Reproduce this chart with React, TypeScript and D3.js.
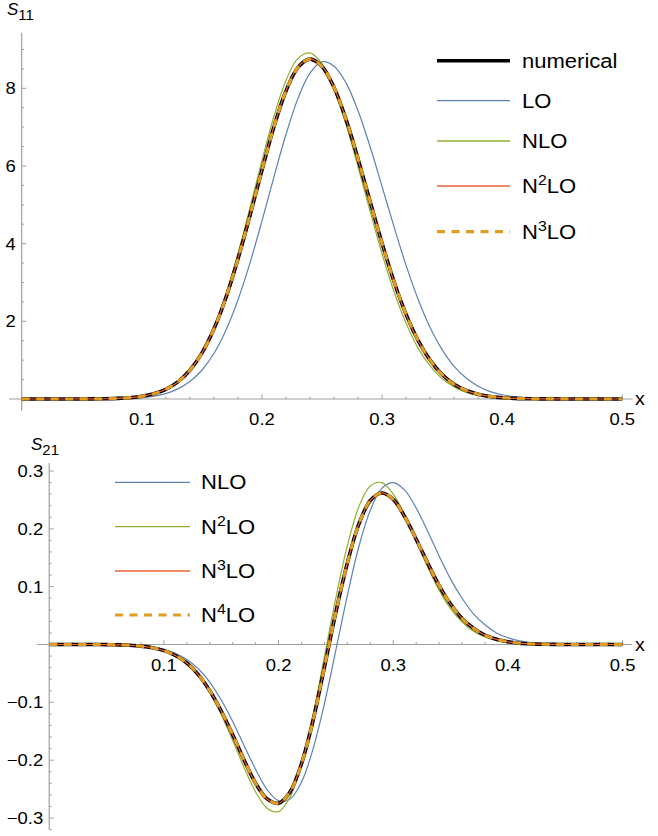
import React from 'react';
import * as d3 from 'd3';

const xGrid = [
  0, 0.01, 0.02, 0.03, 0.04, 0.05, 0.06, 0.07, 0.08, 0.09,
  0.1, 0.11, 0.12, 0.13, 0.14, 0.15, 0.16, 0.17, 0.18, 0.19,
  0.2, 0.21, 0.22, 0.23, 0.24, 0.25, 0.26, 0.27, 0.28, 0.29,
  0.3, 0.31, 0.32, 0.33, 0.34, 0.35, 0.36, 0.37, 0.38, 0.39,
  0.4, 0.41, 0.42, 0.43, 0.44, 0.45, 0.46, 0.47, 0.48, 0.49, 0.5,
];

// S11 panel
const s11Numerical = [
  0, 0, 0, 0, 0, 0.001, 0.003, 0.007, 0.016, 0.034,
  0.069, 0.135, 0.25, 0.44, 0.74, 1.18, 1.8, 2.61, 3.6, 4.72,
  5.89, 7.01, 7.93, 8.54, 8.75, 8.56, 8.02, 7.2, 6.18, 5.09,
  4.01, 3.02, 2.18, 1.51, 1.0, 0.63, 0.38, 0.22, 0.124, 0.066,
  0.034, 0.017, 0.008, 0.004, 0.002, 0.001, 0, 0, 0, 0, 0,
];
const s11LO = [
  0, 0, 0, 0, 0, 0.001, 0.002, 0.004, 0.008, 0.018,
  0.037, 0.074, 0.14, 0.26, 0.45, 0.74, 1.17, 1.77, 2.55, 3.5,
  4.58, 5.72, 6.81, 7.74, 8.39, 8.68, 8.57, 8.14, 7.42, 6.5,
  5.47, 4.43, 3.44, 2.57, 1.84, 1.27, 0.84, 0.54, 0.33, 0.19,
  0.109, 0.059, 0.031, 0.015, 0.007, 0.003, 0.001, 0, 0, 0, 0,
];
const s11NLO = [
  0, 0, 0, 0, 0, 0.001, 0.002, 0.006, 0.014, 0.031,
  0.065, 0.13, 0.24, 0.44, 0.75, 1.21, 1.85, 2.7, 3.74, 4.92,
  6.14, 7.28, 8.2, 8.77, 8.91, 8.63, 7.99, 7.07, 5.98, 4.84,
  3.74, 2.76, 1.95, 1.31, 0.85, 0.52, 0.31, 0.17, 0.093, 0.048,
  0.024, 0.011, 0.005, 0.002, 0.001, 0, 0, 0, 0, 0, 0,
];
const s11N2LO = [
  0, 0, 0, 0, 0, 0.001, 0.003, 0.007, 0.016, 0.034,
  0.068, 0.134, 0.25, 0.44, 0.74, 1.18, 1.81, 2.62, 3.61, 4.73,
  5.9, 7.02, 7.94, 8.55, 8.76, 8.57, 8.02, 7.2, 6.17, 5.08,
  4.0, 3.01, 2.17, 1.5, 1.0, 0.63, 0.38, 0.22, 0.124, 0.066,
  0.034, 0.017, 0.008, 0.004, 0.002, 0.001, 0, 0, 0, 0, 0,
];
const s11N3LO = [
  0, 0, 0, 0, 0, 0.001, 0.003, 0.007, 0.016, 0.034,
  0.069, 0.135, 0.25, 0.44, 0.74, 1.18, 1.8, 2.61, 3.6, 4.72,
  5.89, 7.01, 7.93, 8.54, 8.75, 8.56, 8.02, 7.2, 6.18, 5.09,
  4.01, 3.02, 2.18, 1.51, 1.0, 0.63, 0.38, 0.22, 0.124, 0.066,
  0.034, 0.017, 0.008, 0.004, 0.002, 0.001, 0, 0, 0, 0, 0,
];

// S21 panel
const s21Numerical = [
  0, 0, 0, 0, 0, -0.0002, -0.0006, -0.0013, -0.0028, -0.0056,
  -0.0106, -0.019, -0.032, -0.052, -0.08, -0.115, -0.156, -0.2, -0.24, -0.267,
  -0.2745, -0.255, -0.206, -0.132, -0.039, 0.056, 0.141, 0.208, 0.249, 0.262,
  0.251, 0.221, 0.182, 0.141, 0.102, 0.07, 0.045, 0.028, 0.016, 0.0089,
  0.0047, 0.0023, 0.0011, 0.0005, 0.0002, 0, 0, 0, 0, 0, 0,
];
const s21NLO = [
  0, 0, 0, 0, 0, -0.0002, -0.0004, -0.001, -0.0021, -0.0043,
  -0.0083, -0.015, -0.026, -0.042, -0.065, -0.096, -0.133, -0.175, -0.216, -0.251,
  -0.27, -0.267, -0.238, -0.181, -0.102, -0.0095, 0.085, 0.169, 0.232, 0.27,
  0.28, 0.267, 0.236, 0.196, 0.153, 0.113, 0.08, 0.053, 0.034, 0.02,
  0.0116, 0.0063, 0.0033, 0.0016, 0.0008, 0.0003, 0, 0, 0, 0, 0,
];
const s21N2LO = [
  0, 0, 0, 0, 0, -0.0002, -0.0005, -0.0011, -0.0025, -0.0053,
  -0.0104, -0.019, -0.033, -0.054, -0.083, -0.121, -0.166, -0.213, -0.255, -0.283,
  -0.289, -0.264, -0.207, -0.123, -0.021, 0.081, 0.171, 0.238, 0.274, 0.28,
  0.26, 0.224, 0.179, 0.134, 0.094, 0.062, 0.039, 0.023, 0.013, 0.0068,
  0.0034, 0.0016, 0.0007, 0.0003, 0.0001, 0, 0, 0, 0, 0, 0,
];
const s21N3LO = [
  0, 0, 0, 0, 0, -0.0002, -0.0006, -0.0013, -0.0028, -0.0056,
  -0.0106, -0.019, -0.032, -0.052, -0.08, -0.115, -0.156, -0.2, -0.24, -0.267,
  -0.2745, -0.255, -0.206, -0.132, -0.039, 0.056, 0.141, 0.208, 0.249, 0.262,
  0.251, 0.221, 0.182, 0.141, 0.102, 0.07, 0.045, 0.028, 0.016, 0.0089,
  0.0047, 0.0023, 0.0011, 0.0005, 0.0002, 0, 0, 0, 0, 0, 0,
];
const s21N4LO = [
  0, 0, 0, 0, 0, -0.0002, -0.0006, -0.0013, -0.0028, -0.0056,
  -0.0106, -0.019, -0.032, -0.052, -0.08, -0.115, -0.156, -0.2, -0.24, -0.267,
  -0.2745, -0.255, -0.206, -0.132, -0.039, 0.056, 0.141, 0.208, 0.249, 0.262,
  0.251, 0.221, 0.182, 0.141, 0.102, 0.07, 0.045, 0.028, 0.016, 0.0089,
  0.0047, 0.0023, 0.0011, 0.0005, 0.0002, 0, 0, 0, 0, 0, 0,
];

const xTickLabels = ['0.1', '0.2', '0.3', '0.4', '0.5'];
const xTickValues = [0.1, 0.2, 0.3, 0.4, 0.5];
const s11TickValues = [2, 4, 6, 8];
const s11TickLabels = ['2', '4', '6', '8'];
const s21TickValues = [-0.3, -0.2, -0.1, 0.1, 0.2, 0.3];
const s21TickLabels = ['\u22120.3', '\u22120.2', '\u22120.1', '0.1', '0.2', '0.3'];

const BLUE = '#5e81b5';
const GREEN = '#8fb032';
const RED = '#eb6235';
const ORANGE = '#e19c24';
const AXIS = '#a0a0a0';
const FONT = '"Liberation Sans", Arial, Helvetica, sans-serif';

type TxtProps = { x: number; y: number; size: number; anchor?: string; sx?: number; italic?: boolean; children: React.ReactNode };
function Txt({ x, y, size, anchor = 'start', sx = 1.15, italic = false, children }: TxtProps) {
  return (
    <text
      transform={`translate(${x},${y}) scale(${sx},1)`}
      textAnchor={anchor as any}
      fontSize={size}
      fontFamily={FONT}
      fontStyle={italic ? 'italic' : 'normal'}
      fill="#000"
    >
      {children}
    </text>
  );
}

function Sup({ base, sup, rest, size }: { base: string; sup: string; rest: string; size: number }) {
  return (
    <>
      <tspan>{base}</tspan>
      <tspan dy={-8} fontSize={size * 0.72}>{sup}</tspan>
      <tspan dy={8}>{rest}</tspan>
    </>
  );
}

type Series = { values: number[]; color: string; width: number; dash?: string };

function Panel({
  x, y, xAxisRange, yAxisRange, yMajor, yMajorLabels, yMinorStep, yMinorRange, series, tickFont,
}: {
  x: d3.ScaleLinear<number, number>;
  y: d3.ScaleLinear<number, number>;
  xAxisRange: [number, number];
  yAxisRange: [number, number];
  yMajor: number[];
  yMajorLabels: string[];
  yMinorStep: number;
  yMinorRange: [number, number];
  series: Series[];
  tickFont: number;
}) {
  const line = d3
    .line<number>()
    .x((_, i) => x(xGrid[i]))
    .y((d) => y(d))
    .curve(d3.curveCatmullRom.alpha(0.5));
  const x0 = x(0);
  const y0 = y(0);
  const xMinor = d3.range(0.02, 0.5001, 0.02).filter((v) => Math.abs(v * 10 - Math.round(v * 10)) > 1e-6);
  const yMinor = d3
    .range(yMinorRange[0], yMinorRange[1] + 1e-9, yMinorStep)
    .filter((v) => !yMajor.some((m) => Math.abs(m - v) < 1e-9) && Math.abs(v) > 1e-9);
  return (
    <g>
      <line x1={x(xAxisRange[0])} x2={x(xAxisRange[1])} y1={y0} y2={y0} stroke={AXIS} strokeWidth={1.2} />
      <line x1={x0} x2={x0} y1={y(yAxisRange[0])} y2={y(yAxisRange[1])} stroke={AXIS} strokeWidth={1.2} />
      {xTickValues.map((v) => (
        <line key={'xm' + v} x1={x(v)} x2={x(v)} y1={y0} y2={y0 - 4.5} stroke={AXIS} strokeWidth={1} />
      ))}
      {xMinor.map((v) => (
        <line key={'xn' + v} x1={x(v)} x2={x(v)} y1={y0} y2={y0 - 2.5} stroke={AXIS} strokeWidth={1} />
      ))}
      {yMajor.map((v) => (
        <line key={'ym' + v} x1={x0} x2={x0 + 4.5} y1={y(v)} y2={y(v)} stroke={AXIS} strokeWidth={1} />
      ))}
      {yMinor.map((v) => (
        <line key={'yn' + v} x1={x0} x2={x0 + 2.5} y1={y(v)} y2={y(v)} stroke={AXIS} strokeWidth={1} />
      ))}
      {xTickValues.map((v, i) => (
        <Txt key={'xl' + v} x={x(v)} y={y0 + 26} size={tickFont} anchor="middle" sx={1.12}>
          {xTickLabels[i]}
        </Txt>
      ))}
      {yMajor.map((v, i) => (
        <Txt key={'yl' + v} x={x0 - 6} y={y(v) + 6} size={tickFont} anchor="end" sx={1.12}>
          {yMajorLabels[i]}
        </Txt>
      ))}
      <Txt x={635} y={y0 + 6} size={tickFont + 1} sx={1.12}>x</Txt>
      {series.map((s, i) => (
        <path
          key={i}
          d={line(s.values) || ''}
          fill="none"
          stroke={s.color}
          strokeWidth={s.width}
          strokeDasharray={s.dash}
          strokeLinejoin="round"
        />
      ))}
    </g>
  );
}

function LegendRow({ x1, x2, tx, y, color, width, dash, children }: { x1: number; x2: number; tx: number; y: number; color: string; width: number; dash?: string; children: React.ReactNode }) {
  return (
    <g>
      <line x1={x1} x2={x2} y1={y} y2={y} stroke={color} strokeWidth={width} strokeDasharray={dash} />
      <Txt x={tx} y={y + 7} size={19.5} sx={1.13}>{children}</Txt>
    </g>
  );
}

export default function App() {
  const xT = d3.scaleLinear().domain([0, 0.5]).range([21.7, 622.3]);
  const yT = d3.scaleLinear().domain([0, 8]).range([399, 88.3]);
  const xB = d3.scaleLinear().domain([0, 0.5]).range([49.2, 622.6]);
  const yB = d3.scaleLinear().domain([-0.3, 0.3]).range([818, 471]);
  const DASH = '8 6.5';

  return (
    <div style={{ position: 'absolute', left: 0, top: 0, width: 658, height: 836, background: '#fff' }}>
      <svg width={658} height={836} style={{ display: 'block' }}>
        <rect width={658} height={836} fill="#fff" />
        <Panel
          x={xT}
          y={yT}
          xAxisRange={[-0.0106, 0.5085]}
          yAxisRange={[-0.3, 9.43]}
          yMajor={s11TickValues}
          yMajorLabels={s11TickLabels}
          yMinorStep={0.5}
          yMinorRange={[0.5, 9]}
          tickFont={16.5}
          series={[
            { values: s11LO, color: BLUE, width: 1.2 },
            { values: s11NLO, color: GREEN, width: 1.2 },
            { values: s11Numerical, color: '#000', width: 3.6 },
            { values: s11N2LO, color: RED, width: 1.2 },
            { values: s11N3LO, color: ORANGE, width: 3.2, dash: DASH },
          ]}
        />
        <Panel
          x={xB}
          y={yB}
          xAxisRange={[-0.0106, 0.5083]}
          yAxisRange={[-0.32, 0.314]}
          yMajor={s21TickValues}
          yMajorLabels={s21TickLabels}
          yMinorStep={0.02}
          yMinorRange={[-0.32, 0.3]}
          tickFont={16.5}
          series={[
            { values: s21NLO, color: BLUE, width: 1.2 },
            { values: s21N2LO, color: GREEN, width: 1.2 },
            { values: s21Numerical, color: '#000', width: 3.6 },
            { values: s21N3LO, color: RED, width: 1.2 },
            { values: s21N4LO, color: ORANGE, width: 3.2, dash: DASH },
          ]}
        />
        <text x={7} y={15} fontFamily={FONT} fontSize={17}>
          <tspan fontStyle="italic">S</tspan>
          <tspan fontSize={15} dy={5}>11</tspan>
        </text>
        <text x={31} y={450} fontFamily={FONT} fontSize={17}>
          <tspan fontStyle="italic">S</tspan>
          <tspan fontSize={15} dy={5}>21</tspan>
        </text>
        <LegendRow x1={437} x2={510} tx={522} y={60.7} color="#000" width={3.6}>numerical</LegendRow>
        <LegendRow x1={437} x2={510} tx={522} y={100.7} color={BLUE} width={1.3}>LO</LegendRow>
        <LegendRow x1={437} x2={510} tx={522} y={141} color={GREEN} width={1.3}>NLO</LegendRow>
        <LegendRow x1={437} x2={510} tx={522} y={186} color={RED} width={1.3}>
          <Sup base="N" sup="2" rest="LO" size={19.5} />
        </LegendRow>
        <LegendRow x1={437} x2={510} tx={522} y={231.7} color={ORANGE} width={3.2} dash={DASH}>
          <Sup base="N" sup="3" rest="LO" size={19.5} />
        </LegendRow>
        <LegendRow x1={115} x2={190} tx={201} y={482.3} color={BLUE} width={1.3}>NLO</LegendRow>
        <LegendRow x1={115} x2={190} tx={201} y={526.7} color={GREEN} width={1.3}>
          <Sup base="N" sup="2" rest="LO" size={19.5} />
        </LegendRow>
        <LegendRow x1={115} x2={190} tx={201} y={571} color={RED} width={1.3}>
          <Sup base="N" sup="3" rest="LO" size={19.5} />
        </LegendRow>
        <LegendRow x1={115} x2={190} tx={201} y={615} color={ORANGE} width={3.2} dash={DASH}>
          <Sup base="N" sup="4" rest="LO" size={19.5} />
        </LegendRow>
      </svg>
    </div>
  );
}
